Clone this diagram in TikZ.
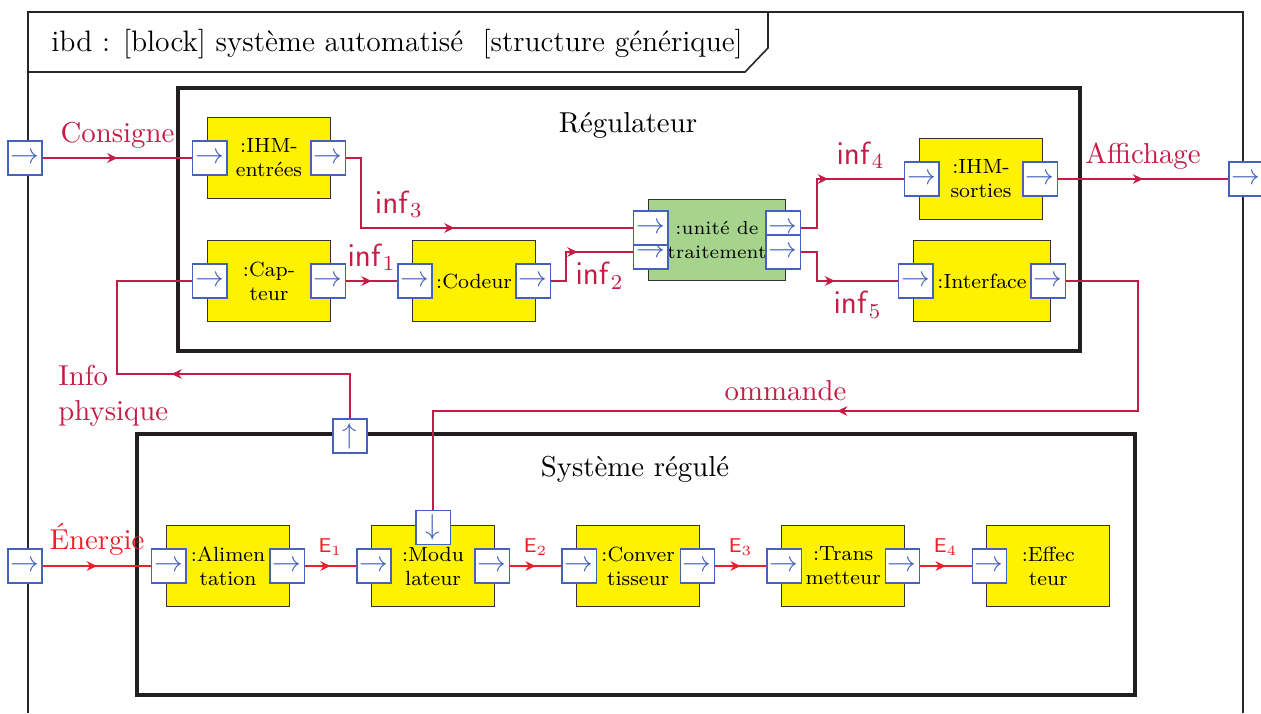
\RequirePackage{fix-cm}
\documentclass[tikz,border=0pt]{standalone}
\usepackage{tikz}
\usetikzlibrary{arrows.meta,positioning,decorations.markings}
\definecolor{crimson}{RGB}{196,28,68}
\definecolor{rouge}{RGB}{236,32,40}
\definecolor{bleuport}{RGB}{68,98,188}
\definecolor{jaune}{RGB}{255,242,0}
\definecolor{vert}{RGB}{166,212,140}
\definecolor{cadreg}{RGB}{35,31,32}
\newcommand\grandfont{\fontsize{10.8}{13}\selectfont}
\newcommand\titrefont{\fontsize{11.1}{13}\selectfont}
\newcommand\blocfont{\fontsize{7.7}{9}\selectfont}
\newcommand\inffont{\fontsize{12}{14}\selectfont}
\newcommand\efont{\fontsize{7.5}{9}\selectfont}
\tikzset{%
    >={Stealth[length=3.8pt,width=3.6pt,inset=1.2pt]},
    block/.style={draw=black!80,line width=.4pt,fill=jaune,minimum width=46.1pt,
        minimum height=30.6pt,inner sep=1pt,align=center,font=\blocfont},
    large/.style={minimum width=51.4pt},
    port/.style={draw=bleuport,line width=.45pt,fill=white,text=bleuport,
        minimum size=12.8pt,inner sep=0pt},
    cadre/.style={draw=cadreg,line width=1.3pt},
    flux/.style={crimson,line width=.85pt,postaction={decorate},
        decoration={markings,mark=at position .5 with {\arrow{>}}}},
    flux e/.style={flux,rouge,line width=1.1pt},
    inflab/.style={font=\inffont},
    elab/.style={font=\efont},
    sh2in/.style={xshift=1.1pt},
    sh2out/.style={xshift=-1.1pt}
}
\begin{document}
\begin{tikzpicture}[x=.375pt,y=-.375pt,font=\grandfont,node distance=30.4pt]
\useasboundingbox (0,0) rectangle (1261,713);
% cadre ibd
\draw[line width=.5pt,black!85] (28,713) -- (28,12) -- (1243,12) -- (1243,713);
\draw[line width=.6pt,black!85,fill=white] (28,12) -- (768,12) -- (768,48) -- (745,72) -- (28,72) -- cycle;
\node[anchor=west,font=\titrefont] (titre) at (42,44) {ibd : [block] système automatisé~~[structure générique]};
%%%%% regulateur
\draw[cadre] (178,88) rectangle (1080,351);
\node (regul) at (628,125) {Régulateur};
\node[block] (ihmE) at (269,158) {:IHM-\\entrées};
\node[block] (capt) at (269,281) {:Cap-\\teur};
\node[block,right= of capt] (codeur) {:Codeur};
\node[block,large,fill=vert,font=\fontsize{7.1}{9}\selectfont] (unite) at (717,240) {:unité de\\traitement};
\node[block] (ihmS) at (981,179) {:IHM-\\sorties};
\node[block,large] (interf) at (982,281) {:Interface};
%%%%% systeme regule
\draw[cadre] (137,434) rectangle (1135,695);
\node (sysreg) at (635,469) {Système régulé};
\node[block] (alim) at (228,566) {:Alimen\\tation};
\node[block,right= of alim] (modu) {:Modu\\lateur};
\node[block,right= of modu] (conv) {:Conver\\tisseur};
\node[block,right= of conv] (trans) {:Trans\\metteur};
\node[block,right= of trans] (effec) {:Effec\\teur};
%%%%% ports
\node[port] (ihmE-in) at ([sh2in]ihmE.west) {$\rightarrow$};
\node[port] (ihmE-out) at ([sh2out]ihmE.east) {$\rightarrow$};
\node[port] (capt-in) at ([sh2in]capt.west) {$\rightarrow$};
\node[port] (capt-out) at ([sh2out]capt.east) {$\rightarrow$};
\node[port] (codeur-in) at ([sh2in]codeur.west) {$\rightarrow$};
\node[port] (codeur-out) at ([sh2out]codeur.east) {$\rightarrow$};
\node[port] (unite-in2) at ([sh2in,yshift=-4.5pt]unite.west) {$\rightarrow$};
\node[port] (unite-in1) at ([sh2in,yshift=4.5pt]unite.west) {$\rightarrow$};
\node[port] (unite-out1) at ([sh2out,yshift=4.5pt]unite.east) {$\rightarrow$};
\node[port] (unite-out2) at ([sh2out,yshift=-4.5pt]unite.east) {$\rightarrow$};
\node[port] (ihmS-in) at ([sh2in]ihmS.west) {$\rightarrow$};
\node[port] (ihmS-out) at ([sh2out]ihmS.east) {$\rightarrow$};
\node[port] (interf-in) at ([sh2in]interf.west) {$\rightarrow$};
\node[port] (interf-out) at ([sh2out]interf.east) {$\rightarrow$};
\node[port] (alim-in) at ([sh2in]alim.west) {$\rightarrow$};
\node[port] (alim-out) at ([sh2out]alim.east) {$\rightarrow$};
\node[port] (modu-in) at ([sh2in]modu.west) {$\rightarrow$};
\node[port] (modu-out) at ([sh2out]modu.east) {$\rightarrow$};
\node[port] (conv-in) at ([sh2in]conv.west) {$\rightarrow$};
\node[port] (conv-out) at ([sh2out]conv.east) {$\rightarrow$};
\node[port] (trans-in) at ([sh2in]trans.west) {$\rightarrow$};
\node[port] (trans-out) at ([sh2out]trans.east) {$\rightarrow$};
\node[port] (effec-in) at ([sh2in]effec.west) {$\rightarrow$};
\node[port] (modu-down) at ([yshift=-1.1pt]modu.north) {$\downarrow$};
\node[port] (sr-up) at (350,436) {$\uparrow$};
\node[port] (port-cons) at (25,158) {$\rightarrow$};
\node[port] (port-ener) at (25,566) {$\rightarrow$};
\node[port] (port-affi) at (1246,179) {$\rightarrow$};
%%%%% flux
\coordinate (cmd) at (1138,411);
\coordinate (info) at (117,374);
\draw[flux] (port-cons) -- node[above]{Consigne} (ihmE-in);
\draw[flux] (ihmE-out.east) -- ++(15,0) |- node[pos=.57,above,inflab]{$\mathsf{inf}_3$} (unite-in1);
\draw[flux] (capt-out) -- node[above,inflab]{$\mathsf{inf}_1$} (codeur-in);
\draw[flux] (codeur-out.east) -- ++(15,0) |- node[pos=.75,below,inflab]{$\mathsf{inf}_2$} (unite-in2);
\draw[flux] (unite-out1.east) -- ++(16,0) |- node[pos=.75,above,inflab]{$\mathsf{inf}_4$} (ihmS-in);
\draw[flux] (unite-out2.east) -- ++(16,0) |- node[pos=.75,below,inflab]{$\mathsf{inf}_5$} (interf-in);
\draw[flux] (ihmS-out) -- node[above]{Affichage} (port-affi);
\draw[flux] (interf-out) -| (cmd) -| node[pos=.25,above]{ommande} (modu-down);
\draw[flux] (sr-up) |- (info) |- (capt-in);
\node[crimson,align=left,anchor=west] (info-lab) at (49,396) {Info\\physique};
\draw[flux e] (port-ener) -- node[above]{Énergie} (alim-in);
\draw[flux e] (alim-out) -- node[above,elab]{$\mathsf{E}_1$} (modu-in);
\draw[flux e] (modu-out) -- node[above,elab]{$\mathsf{E}_2$} (conv-in);
\draw[flux e] (conv-out) -- node[above,elab]{$\mathsf{E}_3$} (trans-in);
\draw[flux e] (trans-out) -- node[above,elab]{$\mathsf{E}_4$} (effec-in);
\end{tikzpicture}
\end{document}
